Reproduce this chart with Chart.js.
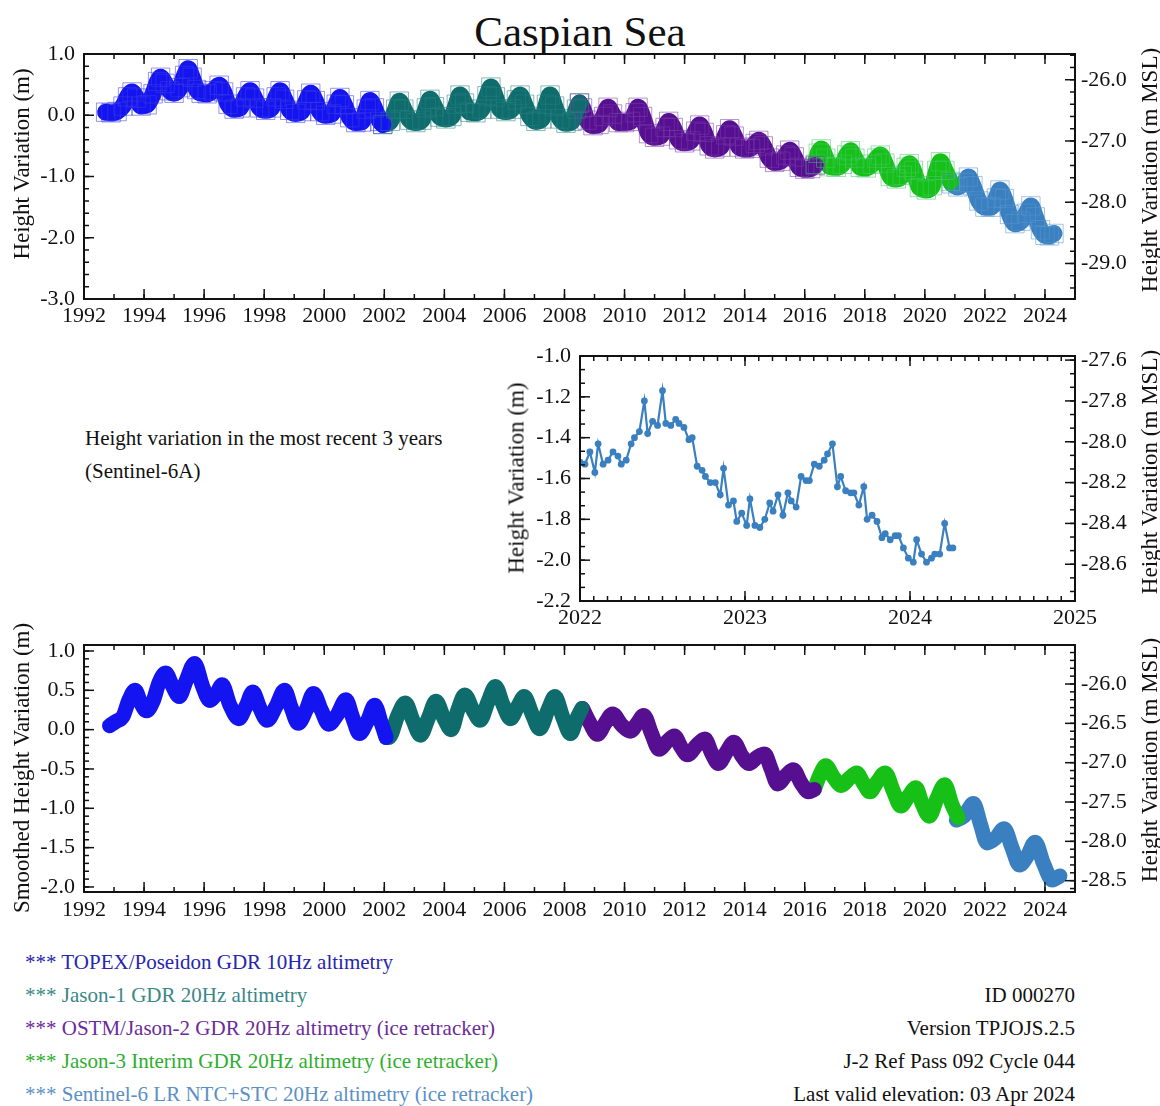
<!DOCTYPE html>
<html><head><meta charset="utf-8">
<script src="https://cdn.jsdelivr.net/npm/chart.js@4.4.1/dist/chart.umd.min.js"></script>
<style>
html,body{margin:0;padding:0;background:#fff;}
body{width:1160px;height:1106px;position:relative;overflow:hidden;font-family:"Liberation Serif",serif;color:#111;}
canvas{position:absolute;}
.t{position:absolute;white-space:nowrap;line-height:1;}
.rot{position:absolute;white-space:nowrap;line-height:1;font-size:23px;transform:translate(-50%,-50%) rotate(-90deg);}
</style></head><body>
<div class="t" style="left:0;width:1160px;text-align:center;top:10px;font-size:43px;">Caspian Sea</div>
<canvas id="c1" width="1160" height="340" style="left:0;top:0"></canvas>
<canvas id="c2" width="680" height="320" style="left:480px;top:320px"></canvas>
<canvas id="c3" width="1160" height="320" style="left:0;top:620px"></canvas>
<div class="rot" style="left:21px;top:164px">Height Variation (m)</div>
<div class="rot" style="left:1149px;top:170px">Height Variation (m MSL)</div>
<div class="rot" style="left:516px;top:478px">Height Variation (m)</div>
<div class="rot" style="left:1149px;top:472px">Height Variation (m MSL)</div>
<div class="rot" style="left:21px;top:768px">Smoothed Height Variation (m)</div>
<div class="rot" style="left:1149px;top:760px">Height Variation (m MSL)</div>
<div class="t" style="left:85px;top:428px;font-size:21px;">Height variation in the most recent 3 years</div>
<div class="t" style="left:85px;top:461px;font-size:21px;">(Sentinel-6A)</div>
<div class="t" style="left:25px;top:952px;font-size:21px;color:#2626b0">*** TOPEX/Poseidon GDR 10Hz altimetry</div>
<div class="t" style="left:25px;top:985px;font-size:21px;color:#3a8787">*** Jason-1 GDR 20Hz altimetry</div>
<div class="t" style="left:25px;top:1018px;font-size:21px;color:#6b2b9a">*** OSTM/Jason-2 GDR 20Hz altimetry (ice retracker)</div>
<div class="t" style="left:25px;top:1051px;font-size:21px;color:#2eae2e">*** Jason-3 Interim GDR 20Hz altimetry (ice retracker)</div>
<div class="t" style="left:25px;top:1084px;font-size:21px;color:#5a90c6">*** Sentinel-6 LR NTC+STC 20Hz altimetry (ice retracker)</div>
<div class="t" style="right:85px;top:985px;font-size:21px;text-align:right">ID 000270</div>
<div class="t" style="right:85px;top:1018px;font-size:21px;text-align:right">Version TPJOJS.2.5</div>
<div class="t" style="right:85px;top:1051px;font-size:21px;text-align:right">J-2 Ref Pass 092 Cycle 044</div>
<div class="t" style="right:85px;top:1084px;font-size:21px;text-align:right">Last valid elevation: 03 Apr 2024</div>
<script>
// ---------- DATA ----------
const yearTicks = [1992,1994,1996,1998,2000,2002,2004,2006,2008,2010,2012,2014,2016,2018,2020,2022,2024];
const topLeftTicks = [1.0,0.0,-1.0,-2.0,-3.0];
const topRightTicks = [-26.0,-27.0,-28.0,-29.0];
const midYearTicks = [2022,2023,2024,2025];
const midLeftTicks = [-1.0,-1.2,-1.4,-1.6,-1.8,-2.0,-2.2];
const midRightTicks = [-27.6,-27.8,-28.0,-28.2,-28.4,-28.6];
const botLeftTicks = [1.0,0.5,0.0,-0.5,-1.0,-1.5,-2.0];
const botRightTicks = [-26.0,-26.5,-27.0,-27.5,-28.0,-28.5];
const mslOffset = 26.58;

// Top panel: height variation per mission (m)
const topexYears = [1992.72,1992.9,1993.1,1993.3,1993.45,1993.6,1993.75,1993.9,1994.1,1994.3,1994.45,1994.55,1994.7,1994.85,1995.0,1995.2,1995.35,1995.47,1995.6,1995.75,1995.9,1996.1,1996.3,1996.5,1996.65,1996.8,1997.0,1997.2,1997.38,1997.53,1997.68,1997.85,1998.05,1998.25,1998.4,1998.53,1998.68,1998.85,1999.05,1999.25,1999.42,1999.55,1999.7,1999.85,2000.05,2000.25,2000.4,2000.52,2000.67,2000.85,2001.05,2001.25,2001.4,2001.52,2001.67,2001.85,2001.95];
const topexHeights = [0.05,0.04,0.06,0.15,0.3,0.38,0.28,0.15,0.17,0.35,0.55,0.62,0.52,0.4,0.36,0.45,0.65,0.76,0.62,0.42,0.36,0.35,0.4,0.49,0.38,0.18,0.1,0.12,0.3,0.4,0.28,0.12,0.08,0.12,0.3,0.4,0.26,0.08,0.03,0.06,0.25,0.36,0.24,0.06,0.0,0.02,0.18,0.29,0.17,-0.04,-0.12,-0.11,0.1,0.24,0.12,-0.1,-0.15];
const jason1Years = [2001.95,2002.2,2002.38,2002.5,2002.65,2002.85,2003.05,2003.25,2003.4,2003.52,2003.67,2003.85,2004.05,2004.25,2004.4,2004.52,2004.67,2004.85,2005.05,2005.25,2005.42,2005.55,2005.7,2005.85,2006.05,2006.25,2006.4,2006.52,2006.67,2006.85,2007.05,2007.25,2007.4,2007.52,2007.67,2007.85,2008.05,2008.25,2008.4,2008.5];
const jason1Heights = [-0.15,-0.1,0.1,0.23,0.1,-0.08,-0.12,-0.08,0.12,0.26,0.14,-0.03,-0.06,-0.02,0.18,0.33,0.2,0.05,0.04,0.1,0.32,0.46,0.3,0.1,0.06,0.1,0.25,0.33,0.18,-0.02,-0.1,-0.06,0.18,0.33,0.15,-0.06,-0.13,-0.1,0.1,0.2];
const ostmYears = [2008.5,2008.6,2008.75,2008.95,2009.15,2009.3,2009.45,2009.6,2009.8,2010.0,2010.2,2010.35,2010.45,2010.6,2010.8,2011.0,2011.2,2011.35,2011.47,2011.62,2011.8,2012.0,2012.2,2012.37,2012.5,2012.65,2012.82,2013.0,2013.2,2013.37,2013.5,2013.65,2013.82,2014.0,2014.2,2014.35,2014.47,2014.62,2014.82,2015.0,2015.2,2015.37,2015.5,2015.65,2015.82,2016.0,2016.2,2016.35];
const ostmHeights = [0.2,0.12,-0.08,-0.17,-0.15,-0.02,0.13,0.02,-0.12,-0.12,-0.1,0.04,0.13,-0.02,-0.3,-0.36,-0.34,-0.2,-0.1,-0.2,-0.4,-0.45,-0.42,-0.26,-0.16,-0.28,-0.5,-0.55,-0.52,-0.32,-0.22,-0.34,-0.52,-0.55,-0.54,-0.46,-0.41,-0.5,-0.7,-0.77,-0.75,-0.65,-0.57,-0.68,-0.85,-0.88,-0.87,-0.82];
const jason3Years = [2016.35,2016.45,2016.55,2016.7,2016.85,2017.05,2017.25,2017.4,2017.52,2017.67,2017.85,2018.05,2018.25,2018.4,2018.52,2018.67,2018.85,2019.05,2019.25,2019.38,2019.48,2019.62,2019.82,2020.05,2020.25,2020.4,2020.52,2020.67,2020.85];
const jason3Heights = [-0.8,-0.62,-0.55,-0.7,-0.84,-0.85,-0.8,-0.65,-0.58,-0.7,-0.85,-0.86,-0.8,-0.7,-0.65,-0.78,-1.0,-1.04,-0.98,-0.85,-0.79,-0.9,-1.18,-1.22,-1.15,-0.9,-0.76,-0.9,-1.08];
const s6Years = [2020.9,2021.1,2021.3,2021.45,2021.6,2021.8,2022.0,2022.2,2022.38,2022.5,2022.65,2022.82,2023.0,2023.2,2023.38,2023.53,2023.68,2023.85,2024.0,2024.15,2024.3];
const s6Heights = [-1.12,-1.17,-1.1,-1.01,-1.15,-1.4,-1.5,-1.5,-1.35,-1.22,-1.36,-1.62,-1.77,-1.73,-1.6,-1.48,-1.66,-1.87,-1.96,-1.97,-1.93];

// Middle panel: Sentinel-6A last 3 years
const recentYears = [2022.0,2022.03,2022.06,2022.09,2022.11,2022.14,2022.17,2022.2,2022.23,2022.25,2022.28,2022.31,2022.33,2022.36,2022.39,2022.41,2022.44,2022.47,2022.5,2022.52,2022.55,2022.58,2022.6,2022.63,2022.66,2022.68,2022.71,2022.74,2022.76,2022.79,2022.82,2022.85,2022.87,2022.9,2022.93,2022.95,2022.98,2023.01,2023.03,2023.06,2023.09,2023.12,2023.15,2023.17,2023.2,2023.23,2023.26,2023.28,2023.31,2023.34,2023.37,2023.39,2023.42,2023.45,2023.48,2023.5,2023.53,2023.56,2023.58,2023.61,2023.64,2023.66,2023.69,2023.72,2023.74,2023.77,2023.8,2023.83,2023.85,2023.88,2023.91,2023.93,2023.96,2023.99,2024.02,2024.04,2024.07,2024.1,2024.13,2024.15,2024.18,2024.21,2024.24,2024.26];
const recentHeights = [-1.52,-1.53,-1.47,-1.57,-1.43,-1.53,-1.51,-1.47,-1.49,-1.53,-1.51,-1.43,-1.40,-1.37,-1.22,-1.38,-1.32,-1.34,-1.17,-1.33,-1.34,-1.31,-1.33,-1.35,-1.41,-1.40,-1.54,-1.56,-1.59,-1.62,-1.62,-1.68,-1.55,-1.73,-1.71,-1.81,-1.77,-1.83,-1.70,-1.83,-1.84,-1.80,-1.72,-1.76,-1.68,-1.78,-1.67,-1.71,-1.74,-1.59,-1.61,-1.61,-1.53,-1.54,-1.51,-1.48,-1.43,-1.64,-1.59,-1.66,-1.67,-1.67,-1.73,-1.64,-1.80,-1.78,-1.81,-1.89,-1.87,-1.90,-1.88,-1.88,-1.94,-1.99,-2.01,-1.90,-1.97,-2.01,-1.99,-1.97,-1.97,-1.82,-1.94,-1.94];

// Bottom panel: smoothed height variation per mission (m)
const topexSmYears = [1992.85,1993.05,1993.3,1993.5,1993.7,1993.9,1994.08,1994.3,1994.5,1994.72,1994.95,1995.17,1995.4,1995.68,1995.95,1996.19,1996.4,1996.6,1996.85,1997.15,1997.4,1997.62,1997.85,1998.1,1998.4,1998.68,1998.9,1999.13,1999.4,1999.64,1999.9,2000.15,2000.45,2000.72,2000.95,2001.17,2001.45,2001.68,2001.9,2002.06];
const topexSmHeights = [0.05,0.1,0.17,0.38,0.5,0.33,0.24,0.36,0.6,0.72,0.55,0.42,0.62,0.84,0.55,0.37,0.45,0.57,0.32,0.14,0.3,0.48,0.28,0.12,0.3,0.5,0.28,0.08,0.25,0.46,0.25,0.07,0.2,0.38,0.15,-0.05,0.12,0.31,0.08,-0.1];
const jason1SmYears = [2002.06,2002.15,2002.45,2002.7,2002.95,2003.2,2003.48,2003.72,2003.98,2004.23,2004.45,2004.68,2004.95,2005.19,2005.45,2005.7,2005.95,2006.2,2006.45,2006.66,2006.92,2007.17,2007.45,2007.68,2007.95,2008.2,2008.42,2008.58];
const jason1SmHeights = [-0.1,-0.1,0.18,0.34,0.12,-0.07,0.16,0.36,0.15,0.0,0.25,0.44,0.25,0.12,0.35,0.55,0.32,0.14,0.3,0.42,0.2,0.01,0.25,0.42,0.15,-0.05,0.15,0.27];
const ostmSmYears = [2008.6,2008.85,2009.1,2009.35,2009.6,2009.9,2010.2,2010.42,2010.64,2010.9,2011.15,2011.42,2011.66,2011.88,2012.1,2012.4,2012.68,2012.9,2013.13,2013.4,2013.64,2013.9,2014.15,2014.42,2014.66,2014.88,2015.1,2015.38,2015.62,2015.88,2016.13,2016.32];
const ostmSmHeights = [0.27,0.08,-0.06,0.08,0.2,0.06,-0.02,0.08,0.18,-0.05,-0.25,-0.15,-0.08,-0.22,-0.32,-0.2,-0.12,-0.3,-0.43,-0.28,-0.16,-0.33,-0.43,-0.35,-0.31,-0.5,-0.69,-0.58,-0.51,-0.68,-0.79,-0.76];
const jason3SmYears = [2016.32,2016.5,2016.7,2016.95,2017.22,2017.48,2017.73,2017.95,2018.17,2018.42,2018.68,2018.95,2019.2,2019.45,2019.7,2019.92,2020.15,2020.4,2020.66,2020.9,2021.11];
const jason3SmHeights = [-0.76,-0.58,-0.46,-0.6,-0.71,-0.62,-0.55,-0.68,-0.79,-0.66,-0.55,-0.78,-0.97,-0.85,-0.74,-0.95,-1.1,-0.88,-0.7,-0.95,-1.12];
const s6SmYears = [2021.05,2021.3,2021.62,2021.85,2022.07,2022.35,2022.64,2022.9,2023.15,2023.42,2023.67,2023.95,2024.24,2024.5];
const s6SmHeights = [-1.15,-1.1,-0.94,-1.2,-1.44,-1.38,-1.26,-1.5,-1.72,-1.6,-1.43,-1.7,-1.91,-1.86];

const missionColors = ['#1414f0','#0f6c6c','#560f90','#16c016','#3a7fc0'];
const squareColors = ['rgba(60,60,230,0.55)','rgba(40,130,130,0.55)','rgba(120,60,170,0.55)','rgba(70,200,110,0.55)','rgba(90,150,205,0.55)'];

// ---------- HELPERS ----------
const zip = (xs, ys) => xs.map((x, i) => ({x, y: ys[i]}));
const FONT = {family: '"Liberation Serif", "Times New Roman", serif', size: 22};
const fix = arr => s => { s.ticks = arr.map(v => ({value: v})); };

const frameTicks = {
  id: 'frameTicks',
  afterDraw(chart, args, o) {
    const {ctx, chartArea: a} = chart;
    const sx = chart.scales.x, sy = chart.scales.y, sy2 = chart.scales.y2;
    ctx.save();
    ctx.strokeStyle = '#111';
    ctx.lineWidth = 1.5;
    const line = (x1, y1, x2, y2) => { ctx.beginPath(); ctx.moveTo(x1, y1); ctx.lineTo(x2, y2); ctx.stroke(); };
    const minors = (scale, step) => {
      const out = [], base = scale.ticks[0].value, lo = Math.min(scale.min, scale.max), hi = Math.max(scale.min, scale.max);
      for (let k = Math.ceil((lo - base) / step - 1e-6); base + k * step <= hi + 1e-6; k++) out.push(base + k * step);
      return out;
    };
    const xT = (vals, len) => vals.forEach(v => { const p = sx.getPixelForValue(v); line(p, a.bottom, p, a.bottom - len); line(p, a.top, p, a.top + len); });
    const yT = (scale, vals, len, right) => vals.forEach(v => { const p = scale.getPixelForValue(v); if (right) line(a.right, p, a.right - len, p); else line(a.left, p, a.left + len, p); });
    xT(minors(sx, o.xMinor), 5); xT(sx.ticks.map(t => t.value), 10);
    yT(sy, minors(sy, o.yMinor), 5, false); yT(sy, sy.ticks.map(t => t.value), 10, false);
    yT(sy2, minors(sy2, o.y2Minor), 5, true); yT(sy2, sy2.ticks.map(t => t.value), 10, true);
    ctx.lineWidth = 2;
    ctx.strokeRect(a.left, a.top, a.right - a.left, a.bottom - a.top);
    ctx.restore();
  }
};

const noGrid = {display: false, drawTicks: false};
function makeChart(id, datasets, cfg) {
  return new Chart(document.getElementById(id), {
    type: 'line',
    data: {datasets},
    plugins: [frameTicks],
    options: {
      responsive: false, animation: false, events: [],
      layout: {padding: {top: cfg.padTop, left: 0, right: 0, bottom: 0}},
      plugins: {legend: {display: false}, tooltip: {enabled: false}, frameTicks: cfg.minor},
      scales: {
        x: {type: 'linear', position: 'bottom', min: cfg.xMin, max: cfg.xMax,
            afterBuildTicks: fix(cfg.xTicks), afterFit: s => { s.height = cfg.xH; },
            grid: noGrid, border: {display: false},
            ticks: {font: FONT, color: '#111', padding: cfg.xPad, autoSkip: false, maxRotation: 0, callback: v => String(v)}},
        y: {type: 'linear', position: 'left', min: cfg.yMin, max: cfg.yMax,
            afterBuildTicks: fix(cfg.yTicks), afterFit: s => { s.width = cfg.yW; },
            grid: noGrid, border: {display: false},
            ticks: {font: FONT, color: '#111', padding: 9, callback: v => Number(v).toFixed(1)}},
        y2: {type: 'linear', position: 'right', min: cfg.yMin - mslOffset, max: cfg.yMax - mslOffset,
            afterBuildTicks: fix(cfg.y2Ticks), afterFit: s => { s.width = cfg.y2W; },
            grid: noGrid, border: {display: false},
            ticks: {font: FONT, color: '#111', padding: 6, callback: v => Number(v).toFixed(1)}}
      }
    }
  });
}

const bandDs = (xs, ys, color, w) => ({
  data: zip(xs, ys), borderColor: color, backgroundColor: color, borderWidth: w,
  pointRadius: 0, cubicInterpolationMode: 'monotone', borderCapStyle: 'round', borderJoinStyle: 'round',
  xAxisID: 'x', yAxisID: 'y'
});
const squareDs = (xs, ys, color) => ({
  data: zip(xs, ys), showLine: false, pointStyle: 'rect', pointRadius: 13,
  pointBorderColor: color, pointBackgroundColor: 'rgba(0,0,0,0)', pointBorderWidth: 1,
  xAxisID: 'x', yAxisID: 'y'
});

makeChart('c1', [
  squareDs(topexYears, topexHeights, squareColors[0]),
  squareDs(jason1Years, jason1Heights, squareColors[1]),
  squareDs(ostmYears, ostmHeights, squareColors[2]),
  squareDs(jason3Years, jason3Heights, squareColors[3]),
  squareDs(s6Years, s6Heights, squareColors[4]),
  bandDs(topexYears, topexHeights, missionColors[0], 17),
  bandDs(jason1Years, jason1Heights, missionColors[1], 17),
  bandDs(ostmYears, ostmHeights, missionColors[2], 17),
  bandDs(jason3Years, jason3Heights, missionColors[3], 17),
  bandDs(s6Years, s6Heights, missionColors[4], 17)
], {padTop: 54, xMin: 1992, xMax: 2025, xTicks: yearTicks, xH: 41, xPad: 4,
    yMin: -3.0, yMax: 1.0, yTicks: topLeftTicks, y2Ticks: topRightTicks, yW: 84, y2W: 85,
    minor: {xMinor: 1, yMinor: 0.2, y2Minor: 0.2}});

makeChart('c2', [{
  data: zip(recentYears, recentHeights), borderColor: missionColors[4], backgroundColor: missionColors[4],
  borderWidth: 2.2, pointRadius: 3.4, pointBorderWidth: 0, tension: 0, xAxisID: 'x', yAxisID: 'y'
}], {padTop: 36, xMin: 2022, xMax: 2025, xTicks: midYearTicks, xH: 39, xPad: 4,
    yMin: -2.2, yMax: -1.0, yTicks: midLeftTicks, y2Ticks: midRightTicks, yW: 100, y2W: 85,
    minor: {xMinor: 1/12, yMinor: 0.2/3, y2Minor: 0.2/3}});

makeChart('c3', [
  bandDs(topexSmYears, topexSmHeights, missionColors[0], 15),
  bandDs(jason1SmYears, jason1SmHeights, missionColors[1], 15),
  bandDs(ostmSmYears, ostmSmHeights, missionColors[2], 15),
  bandDs(jason3SmYears, jason3SmHeights, missionColors[3], 15),
  bandDs(s6SmYears, s6SmHeights, missionColors[4], 15)
], {padTop: 25, xMin: 1992, xMax: 2025, xTicks: yearTicks, xH: 48, xPad: 5,
    yMin: -2.064, yMax: 1.076, yTicks: botLeftTicks, y2Ticks: botRightTicks, yW: 84, y2W: 85,
    minor: {xMinor: 1, yMinor: 0.1, y2Minor: 0.1}});
</script>
</body></html>
